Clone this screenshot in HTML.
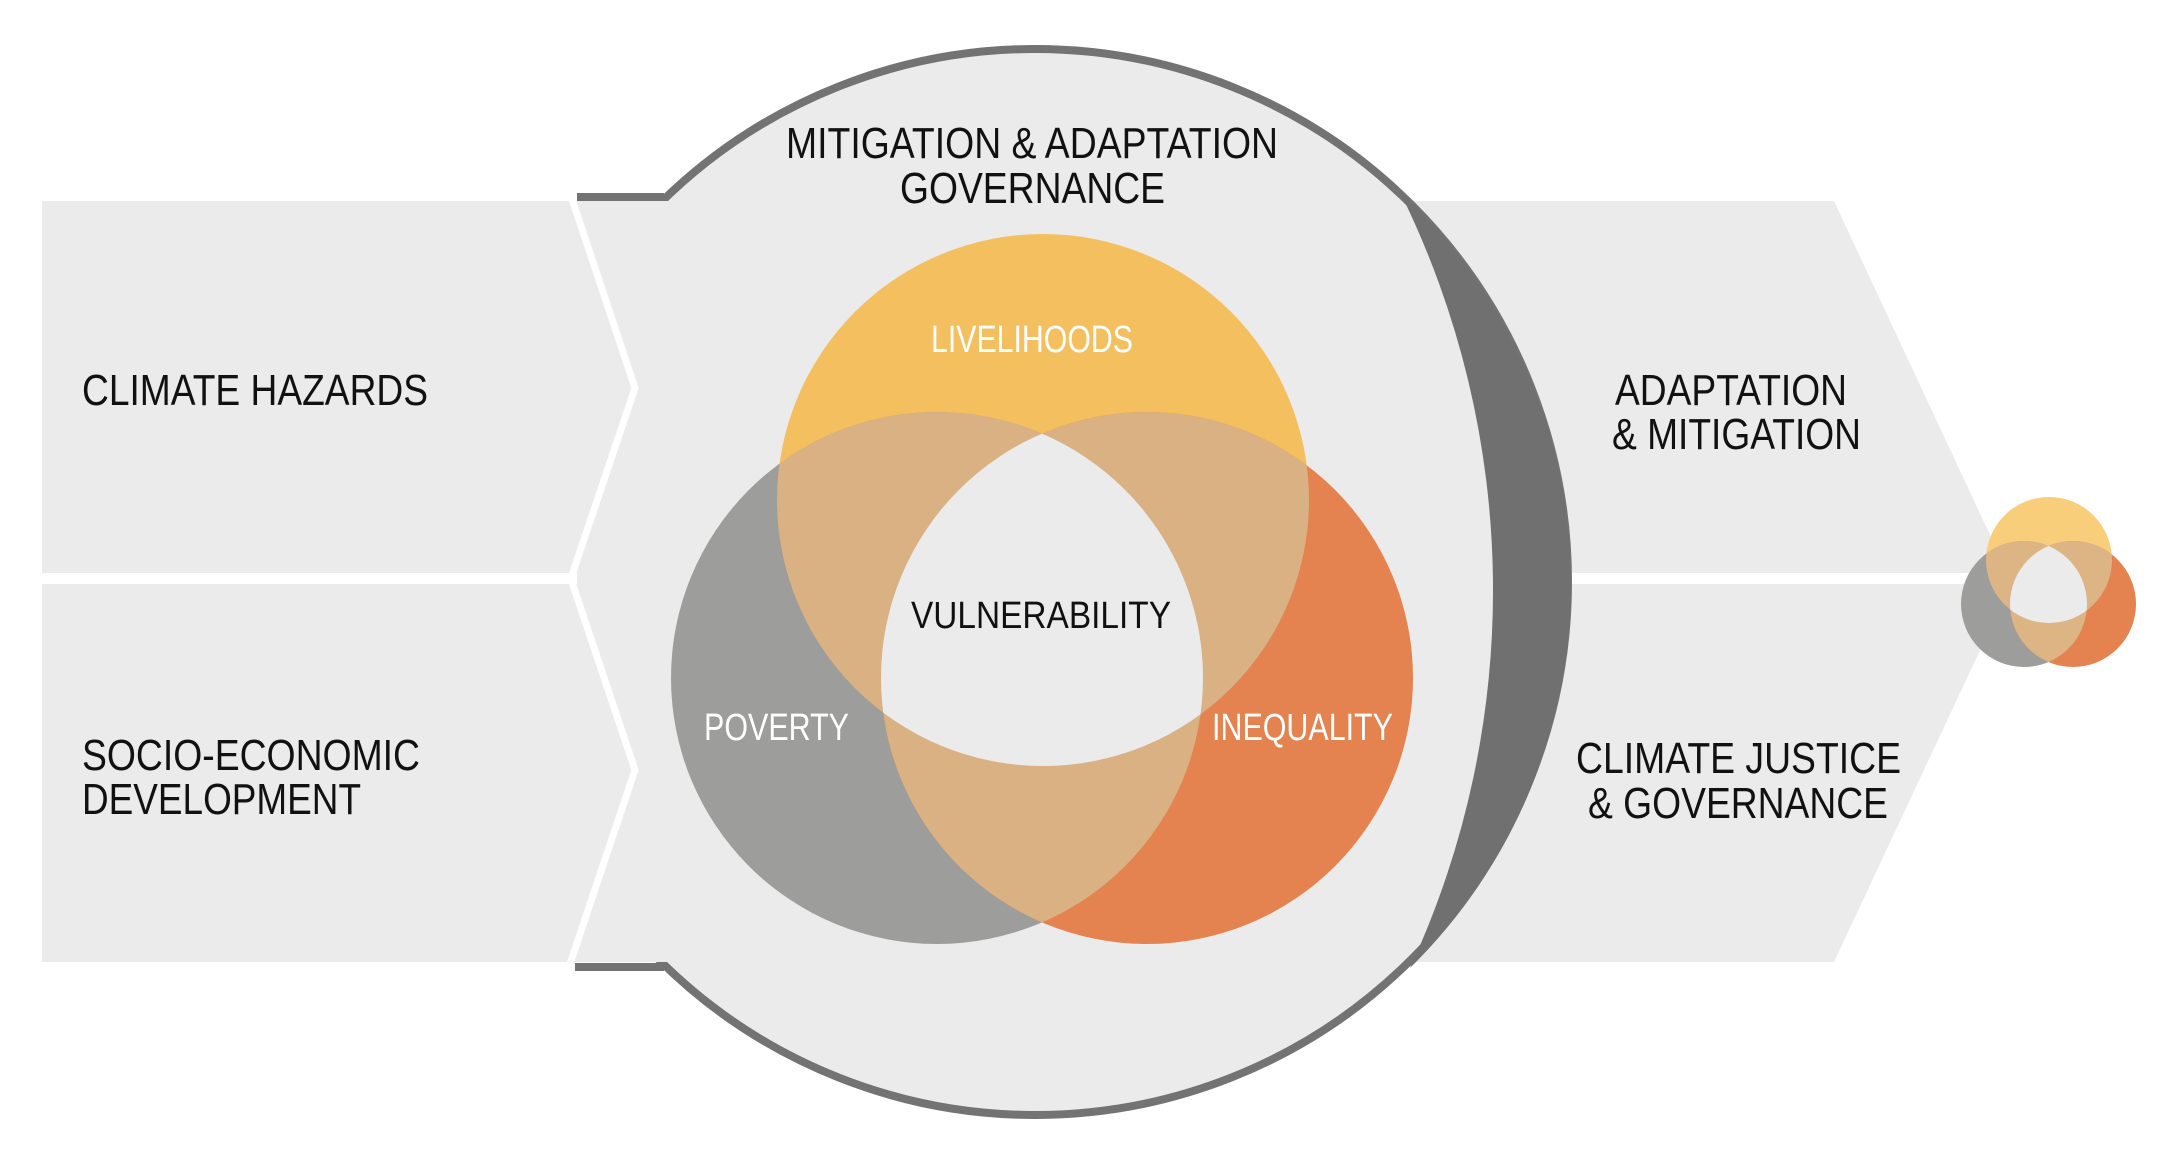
<!DOCTYPE html>
<html><head><meta charset="utf-8"><style>html,body{margin:0;padding:0;background:#fff}svg{display:block}</style></head><body>
<svg width="2167" height="1155" viewBox="0 0 2167 1155" xmlns="http://www.w3.org/2000/svg" font-family="Liberation Sans, Arial, sans-serif">
<defs>
<clipPath id="cy"><circle cx="1043" cy="500" r="266"/></clipPath>
<clipPath id="cg"><circle cx="937" cy="678" r="266"/></clipPath>
<clipPath id="co"><circle cx="1147" cy="678" r="266"/></clipPath>
<clipPath id="sy"><circle cx="2049" cy="560" r="63"/></clipPath>
<clipPath id="sg"><circle cx="2024" cy="604" r="63"/></clipPath>
<clipPath id="so"><circle cx="2073" cy="604" r="63"/></clipPath>
</defs>
<!-- right panels -->
<polygon points="1380,201 1834,201 2012,582 1834,962 1380,962" fill="#EBEBEB"/>
<rect x="1380" y="573" width="640" height="11" fill="#fff"/>
<!-- big circle -->
<circle cx="1035" cy="582" r="533" fill="#EBEBEB" stroke="#737373" stroke-width="8"/>
<rect x="500" y="201" width="200" height="761" fill="#EBEBEB"/>
<line x1="577" y1="197" x2="664" y2="197" stroke="#737373" stroke-width="8"/>
<line x1="575" y1="967" x2="664" y2="967" stroke="#737373" stroke-width="8"/>
<path d="M1400 192 A537 537 0 0 1 1410 968 A900 900 0 0 0 1400 192 Z" fill="#707070"/>
<!-- left panels -->
<rect x="42" y="201" width="530" height="761" fill="#EBEBEB"/>
<rect x="42" y="573" width="535" height="11" fill="#fff"/>
<polyline points="572,199 635,388 572,575" fill="none" stroke="#fff" stroke-width="7"/>
<polyline points="572,582 635,770 570,964" fill="none" stroke="#fff" stroke-width="7"/>
<!-- venn -->
<circle cx="1043" cy="500" r="266" fill="#F4BF5F"/>
<circle cx="937" cy="678" r="266" fill="#9D9D9B"/>
<circle cx="1147" cy="678" r="266" fill="#E48350"/>
<g fill="#D9B182">
<g clip-path="url(#cy)"><circle cx="937" cy="678" r="266"/><circle cx="1147" cy="678" r="266"/></g>
<g clip-path="url(#cg)"><circle cx="1147" cy="678" r="266"/></g>
</g>
<g clip-path="url(#cy)"><g clip-path="url(#cg)"><circle cx="1147" cy="678" r="266" fill="#EBEBEB"/></g></g>
<!-- small venn -->
<circle cx="2049" cy="560" r="63" fill="#F8CE7A"/>
<circle cx="2024" cy="604" r="63" fill="#9D9D9B"/>
<circle cx="2073" cy="604" r="63" fill="#E48350"/>
<g fill="#DDB483">
<g clip-path="url(#sy)"><circle cx="2024" cy="604" r="63"/><circle cx="2073" cy="604" r="63"/></g>
<g clip-path="url(#sg)"><circle cx="2073" cy="604" r="63"/></g>
</g>
<g clip-path="url(#sy)"><g clip-path="url(#sg)"><circle cx="2073" cy="604" r="63" fill="#EBEBEB"/></g></g>
<!-- text -->
<g font-size="44" fill="#111">
<text x="786" y="158" textLength="492" lengthAdjust="spacingAndGlyphs">MITIGATION &amp; ADAPTATION</text>
<text x="900" y="203" textLength="265" lengthAdjust="spacingAndGlyphs">GOVERNANCE</text>
<text x="82" y="405" textLength="346" lengthAdjust="spacingAndGlyphs">CLIMATE HAZARDS</text>
<text x="82" y="770" textLength="338" lengthAdjust="spacingAndGlyphs">SOCIO-ECONOMIC</text>
<text x="82" y="814" textLength="279" lengthAdjust="spacingAndGlyphs">DEVELOPMENT</text>
<text x="1615" y="405" textLength="232" lengthAdjust="spacingAndGlyphs">ADAPTATION</text>
<text x="1612" y="449" textLength="249" lengthAdjust="spacingAndGlyphs">&amp; MITIGATION</text>
<text x="1576" y="773" textLength="325" lengthAdjust="spacingAndGlyphs">CLIMATE JUSTICE</text>
<text x="1588" y="818" textLength="300" lengthAdjust="spacingAndGlyphs">&amp; GOVERNANCE</text>
</g>
<g font-size="38">
<text x="931" y="352" fill="#fff" textLength="202" lengthAdjust="spacingAndGlyphs">LIVELIHOODS</text>
<text x="911" y="628" fill="#111" textLength="260" lengthAdjust="spacingAndGlyphs">VULNERABILITY</text>
<text x="704" y="740" fill="#fff" textLength="145" lengthAdjust="spacingAndGlyphs">POVERTY</text>
<text x="1212" y="740" fill="#fff" textLength="181" lengthAdjust="spacingAndGlyphs">INEQUALITY</text>
</g>
</svg>
</body></html>
